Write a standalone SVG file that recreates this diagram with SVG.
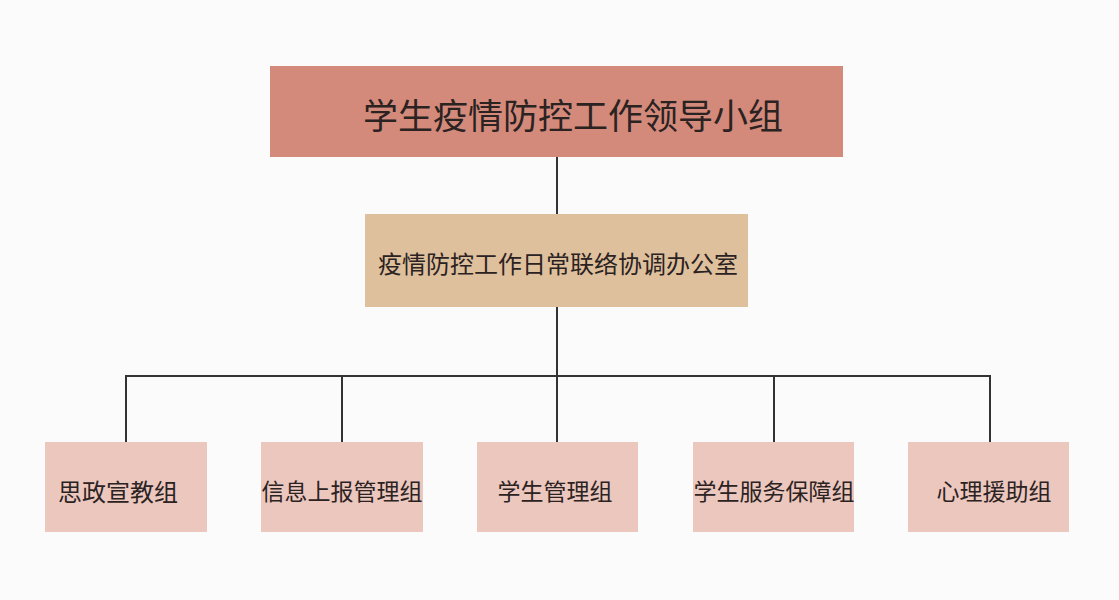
<svg xmlns="http://www.w3.org/2000/svg" width="1119" height="600" viewBox="0 0 1119 600">
<style>
text{font-family:"Noto Sans CJK SC","Noto Sans",sans-serif;fill:#2b2222;text-anchor:middle;dominant-baseline:central}
.conn{stroke:#333;stroke-width:2;fill:none}
.leaf rect{fill:#ebc7be}
.leaf text{font-size:23px}
</style>
<rect width="1119" height="600" fill="#fbfbfb"/>
<g id="connectors">
<line class="conn" x1="557" y1="157" x2="557" y2="214"/>
<line class="conn" x1="557" y1="307" x2="557" y2="442"/>
<polyline class="conn" points="126,442 126,376 990,376 990,442"/>
<line class="conn" x1="342" y1="376" x2="342" y2="442"/>
<line class="conn" x1="774" y1="376" x2="774" y2="442"/>
</g>
<g id="leader">
<rect x="270" y="66" width="573" height="91" fill="#d48a7b"/>
<text x="573" y="113" style="font-size:35px">学生疫情防控工作领导小组</text>
</g>
<g id="office">
<rect x="365" y="214" width="383" height="93" fill="#dfc09d"/>
<text x="558" y="262" style="font-size:24px">疫情防控工作日常联络协调办公室</text>
</g>
<g id="g1" class="leaf">
<rect x="45" y="442" width="162" height="90"/>
<text x="118" y="490" style="font-size:24px">思政宣教组</text>
</g>
<g id="g2" class="leaf">
<rect x="261" y="442" width="162" height="90"/>
<text x="342" y="490">信息上报管理组</text>
</g>
<g id="g3" class="leaf">
<rect x="477" y="442" width="161" height="90"/>
<text x="555" y="490">学生管理组</text>
</g>
<g id="g4" class="leaf">
<rect x="693" y="442" width="161" height="90"/>
<text x="774" y="490">学生服务保障组</text>
</g>
<g id="g5" class="leaf">
<rect x="908" y="442" width="161" height="90"/>
<text x="994" y="490">心理援助组</text>
</g>
</svg>
